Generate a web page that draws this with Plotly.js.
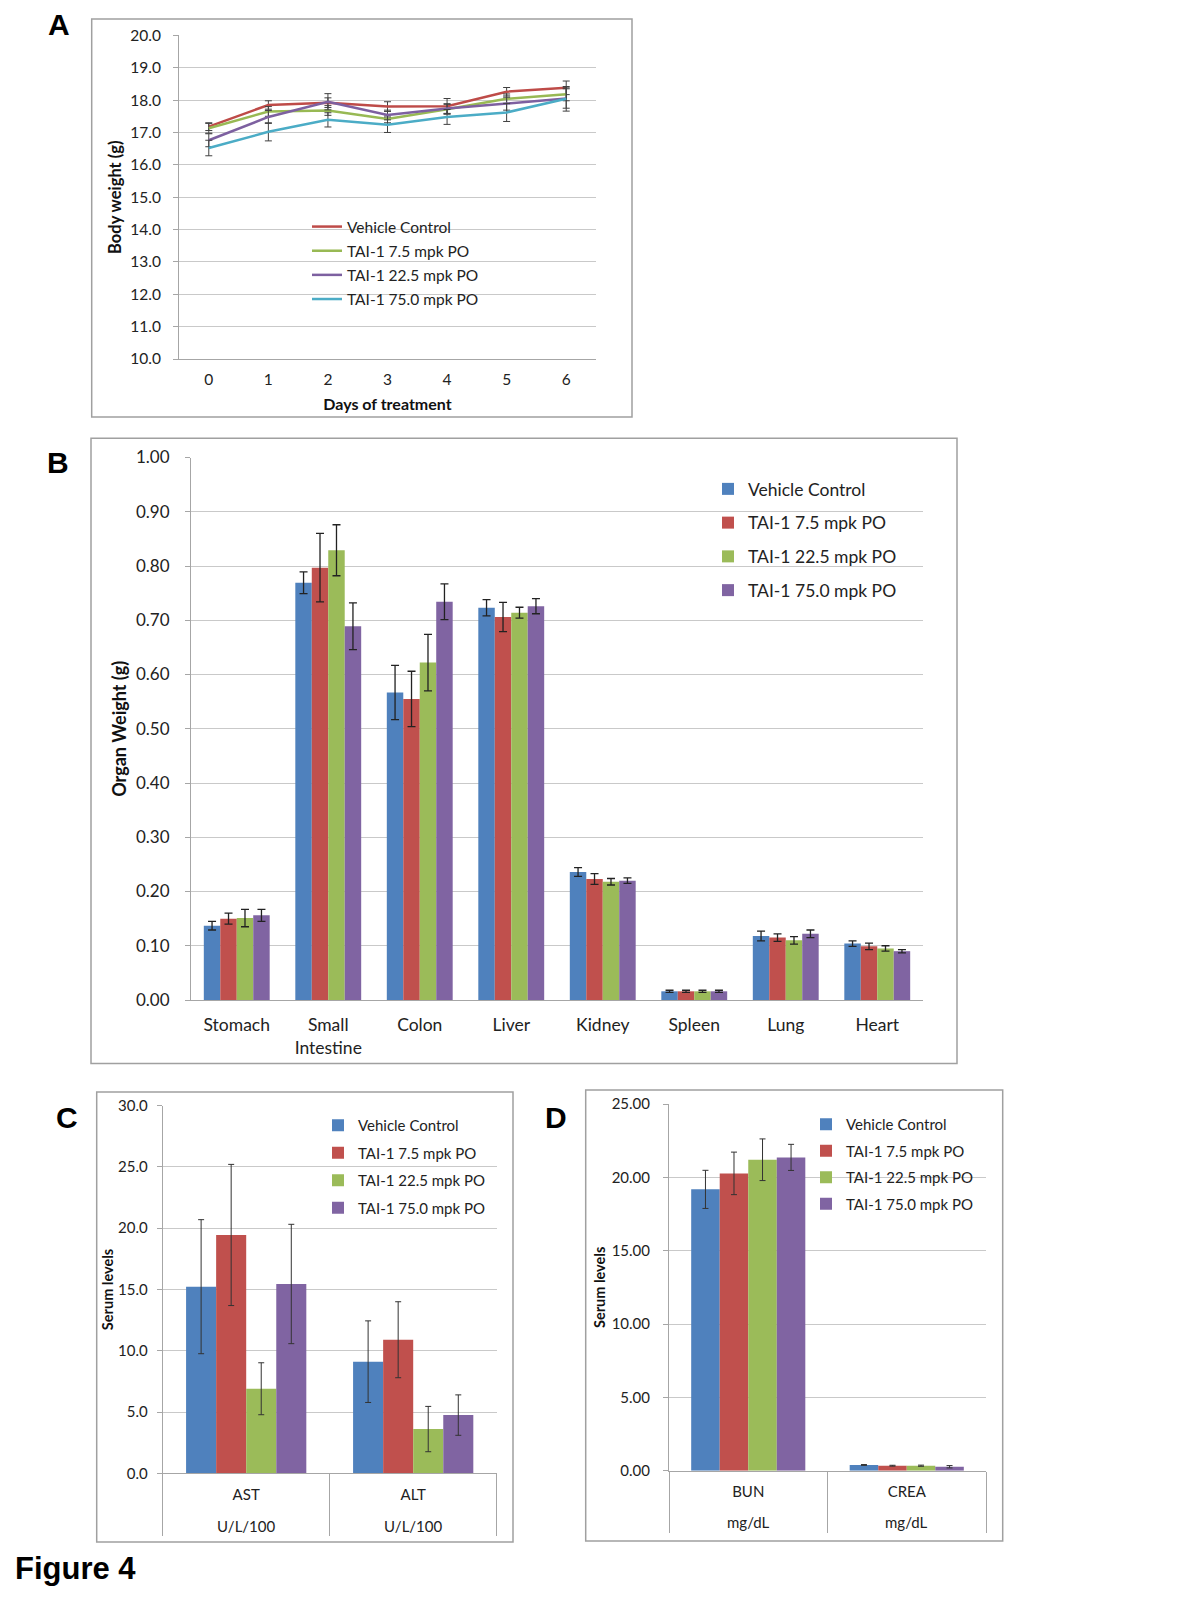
<!DOCTYPE html>
<html><head><meta charset="utf-8">
<script src="https://cdn.plot.ly/plotly-3.0.1.min.js"></script>
<style>html,body{margin:0;padding:0;background:#fff}#chart{width:1200px;height:1600px}</style>
</head><body><div id="chart"></div>
<script>
// ---------- data ----------
const seriesNames = ['Vehicle Control', 'TAI-1 7.5 mpk PO', 'TAI-1 22.5 mpk PO', 'TAI-1 75.0 mpk PO'];

// Panel A: body weight (g) by day
const days = [0, 1, 2, 3, 4, 5, 6];
const bwVehicle = [17.18, 17.85, 17.92, 17.80, 17.81, 18.26, 18.38];
const bwLow     = [17.13, 17.65, 17.68, 17.42, 17.72, 18.04, 18.18];
const bwMid     = [16.76, 17.48, 17.95, 17.54, 17.74, 17.89, 18.05];
const bwHigh    = [16.52, 17.02, 17.39, 17.24, 17.48, 17.62, 18.04];
const bwVehicleErr = [0.12, 0.13, 0.15, 0.15, 0.24, 0.13, 0.21];
const bwLowErr     = [0.15, 0.15, 0.15, 0.12, 0.15, 0.15, 0.20];
const bwMidErr     = [0.20, 0.20, 0.25, 0.15, 0.15, 0.20, 0.30];
const bwHighErr    = [0.24, 0.28, 0.22, 0.24, 0.23, 0.28, 0.38];

// Panel B: organ weight (g)
const organs = ['Stomach', 'Small<br>Intestine', 'Colon', 'Liver', 'Kidney', 'Spleen', 'Lung', 'Heart'];
const owVehicle = [0.137, 0.769, 0.567, 0.723, 0.236, 0.016, 0.118, 0.104];
const owLow     = [0.150, 0.797, 0.555, 0.706, 0.223, 0.016, 0.115, 0.099];
const owMid     = [0.151, 0.829, 0.622, 0.714, 0.218, 0.016, 0.110, 0.095];
const owHigh    = [0.156, 0.689, 0.734, 0.726, 0.220, 0.016, 0.122, 0.090];
const owVehicleErr = [0.008, 0.020, 0.050, 0.015, 0.008, 0.002, 0.009, 0.005];
const owLowErr     = [0.010, 0.063, 0.051, 0.027, 0.010, 0.002, 0.007, 0.006];
const owMidErr     = [0.016, 0.047, 0.052, 0.010, 0.006, 0.002, 0.007, 0.005];
const owHighErr    = [0.011, 0.043, 0.033, 0.014, 0.005, 0.002, 0.007, 0.003];

// Panel C: liver enzymes
const cTests = ['AST', 'ALT'];
const cUnits = ['U/L/100', 'U/L/100'];
const cVehicle = [15.23, 9.11];
const cLow     = [19.45, 10.90];
const cMid     = [6.90, 3.61];
const cHigh    = [15.45, 4.75];
const cVehicleErr = [5.47, 3.33];
const cLowErr     = [5.76, 3.10];
const cMidErr     = [2.12, 1.85];
const cHighErr    = [4.87, 1.65];

// Panel D: kidney markers
const dTests = ['BUN', 'CREA'];
const dUnits = ['mg/dL', 'mg/dL'];
const dVehicle = [19.18, 0.39];
const dLow     = [20.27, 0.34];
const dMid     = [21.20, 0.34];
const dHigh    = [21.36, 0.27];
const dVehicleErr = [1.30, 0.03];
const dLowErr     = [1.45, 0.03];
const dMidErr     = [1.42, 0.04];
const dHighErr    = [0.89, 0.08];

// ---------- styles ----------
const W = 1200, H = 1600;
const px = v => v / W;
const py = v => 1 - v / H;
const FONT = 'Lato, "Open Sans", sans-serif';
const lineColors = ['#BE4B48', '#98B954', '#7D60A0', '#4BACC6'];
const barColors = ['#4F81BD', '#C0504D', '#9BBB59', '#8064A2'];
const grid = '#c9c9c9';
const axisGray = '#a6a6a6';

const traces = [];
const bwSeries = [bwVehicle, bwLow, bwMid, bwHigh];
const bwErrs = [bwVehicleErr, bwLowErr, bwMidErr, bwHighErr];
bwSeries.forEach((s, i) => traces.push({
  type: 'scatter', mode: 'lines', x: days, y: s, name: seriesNames[i],
  xaxis: 'x', yaxis: 'y', legend: 'legend', legendgroup: 'a' + i,
  line: {color: lineColors[i], width: 2.5},
  error_y: {type: 'data', array: bwErrs[i], visible: true, color: '#404040', thickness: 1, width: 3.5}
}));

const owSeries = [owVehicle, owLow, owMid, owHigh];
const owErrs = [owVehicleErr, owLowErr, owMidErr, owHighErr];
owSeries.forEach((s, i) => traces.push({
  type: 'bar', x: organs, y: s, name: seriesNames[i],
  xaxis: 'x2', yaxis: 'y2', legend: 'legend2', legendgroup: 'b' + i,
  marker: {color: barColors[i], line: {width: 0}},
  error_y: {type: 'data', array: owErrs[i], visible: true, color: '#222', thickness: 1.3, width: 4}
}));

const cSeries = [cVehicle, cLow, cMid, cHigh];
const cErrs = [cVehicleErr, cLowErr, cMidErr, cHighErr];
cSeries.forEach((s, i) => traces.push({
  type: 'bar', x: cTests, y: s, name: seriesNames[i],
  xaxis: 'x3', yaxis: 'y3', legend: 'legend3', legendgroup: 'c' + i,
  marker: {color: barColors[i], line: {width: 0}},
  error_y: {type: 'data', array: cErrs[i], visible: true, color: '#333', thickness: 1, width: 3}
}));

const dSeries = [dVehicle, dLow, dMid, dHigh];
const dErrs = [dVehicleErr, dLowErr, dMidErr, dHighErr];
dSeries.forEach((s, i) => traces.push({
  type: 'bar', x: dTests, y: s, name: seriesNames[i],
  xaxis: 'x4', yaxis: 'y4', legend: 'legend4', legendgroup: 'd' + i,
  marker: {color: barColors[i], line: {width: 0}},
  error_y: {type: 'data', array: dErrs[i], visible: true, color: '#333', thickness: 1, width: 3}
}));

function yAxis(domain, range, dtick, fmt, size, title, tsize, standoff, tstand, anchor) {
  return {
    domain: domain, range: range, dtick: dtick, tick0: 0, tickformat: fmt, anchor: anchor,
    showgrid: true, gridcolor: grid, gridwidth: 1, zeroline: false,
    showline: true, linecolor: axisGray, linewidth: 1,
    ticks: 'outside', ticklen: 5, tickcolor: axisGray, ticklabelstandoff: standoff,
    tickfont: {family: FONT, size: size, color: '#222'},
    title: {text: title, standoff: tstand, font: {family: FONT, size: tsize, color: '#111', weight: 'bold'}},
    automargin: false, fixedrange: true
  };
}

// category axis with long boundary ticks acting as the table-style dividers
function catAxis(domain, anchor, divLen, standoff) {
  return {domain: domain, anchor: anchor, showgrid: false, zeroline: false,
    showline: true, linecolor: axisGray, linewidth: 1,
    tickson: 'boundaries', ticks: 'outside', ticklen: divLen, tickcolor: axisGray, tickwidth: 1,
    ticklabelstandoff: standoff,
    tickfont: {family: FONT, size: 15, color: '#222'}, automargin: false, fixedrange: true};
}

function unitLabels(axis, cats, units, yPix) {
  return cats.map((c, i) => ({text: units[i], x: c, xref: axis, y: py(yPix), yref: 'paper',
    showarrow: false, xanchor: 'center', yanchor: 'middle',
    font: {family: FONT, size: 15, color: '#222'}}));
}

function legendCfg(left, top, size, gap) {
  return {x: px(left), y: py(top), xanchor: 'left', yanchor: 'top',
    font: {family: FONT, size: size, color: '#222'}, bgcolor: 'rgba(0,0,0,0)',
    borderwidth: 0, traceorder: 'grouped', tracegroupgap: gap};
}

function box(x0, y0, x1, y1) {
  return {type: 'rect', xref: 'paper', yref: 'paper', x0: px(x0), x1: px(x1), y0: py(y1), y1: py(y0),
    line: {color: '#a0a0a0', width: 1.5}, fillcolor: 'rgba(0,0,0,0)', layer: 'below'};
}

function letter(text, x, y, size) {
  return {text: text, x: px(x), y: py(y), xref: 'paper', yref: 'paper', showarrow: false,
    xanchor: 'center', yanchor: 'middle',
    font: {family: '"Liberation Sans", Arial, sans-serif', size: size, color: '#000', weight: 'bold'}};
}

const layout = {
  width: W, height: H, margin: {l: 0, r: 0, t: 0, b: 0},
  paper_bgcolor: '#fff', plot_bgcolor: 'rgba(0,0,0,0)',
  barmode: 'group', bargap: 0.28, bargroupgap: 0,
  showlegend: true,
  // Panel A
  xaxis: {domain: [px(179), px(596)], range: [-0.5, 6.5], tickvals: days, anchor: 'y',
    showgrid: false, zeroline: false, showline: true, linecolor: axisGray, ticks: '',
    ticklabelstandoff: 6,
    tickfont: {family: FONT, size: 15.5, color: '#222'},
    title: {text: 'Days of treatment', standoff: 12, font: {family: FONT, size: 16, color: '#111', weight: 'bold'}},
    automargin: false, fixedrange: true},
  yaxis: yAxis([py(359), py(35.4)], [10, 20], 1, '.1f', 15.5, 'Body weight (g)', 16.5, 9, 4, 'x'),
  // Panel B
  xaxis2: {domain: [px(191), px(923)], anchor: 'y2', showgrid: false, zeroline: false,
    showline: true, linecolor: axisGray, ticks: '', ticklabelstandoff: 9,
    tickfont: {family: FONT, size: 17.5, color: '#222'}, automargin: false, fixedrange: true},
  yaxis2: yAxis([py(1000), py(457.5)], [0, 1], 0.1, '.2f', 17, 'Organ Weight (g)', 18, 12, 4, 'x2'),
  // Panel C
  xaxis3: catAxis([px(162.7), px(496.7)], 'y3', 62, 8),
  yaxis3: yAxis([py(1473.3), py(1105.7)], [0, 30], 5, '.1f', 15, 'Serum levels', 14.5, 6, 0, 'x3'),
  // Panel D
  xaxis4: catAxis([px(669), px(986)], 'y4', 61, 7),
  yaxis4: yAxis([py(1470.7), py(1104)], [0, 25], 5, '.2f', 15, 'Serum levels', 14.5, 10, 2, 'x4'),
  legend: legendCfg(307, 210, 15.5, 1),
  legend2: legendCfg(708, 471, 17.5, 8),
  legend3: legendCfg(318, 1109, 15, 5),
  legend4: legendCfg(806, 1108, 15, 4),
  shapes: [box(91.7, 19, 632, 417), box(91, 438.3, 957, 1063.5), box(96.7, 1092, 513, 1542), box(585.7, 1090, 1002.7, 1541)],
  annotations: [letter('A', 59, 24.5, 30), letter('B', 57.5, 463, 30), letter('C', 67.3, 1117, 30), letter('D', 556, 1117.5, 30),
    {text: 'Figure 4', x: px(13), y: py(1568), xref: 'paper', yref: 'paper', showarrow: false, xanchor: 'left', yanchor: 'middle',
     font: {family: '"Liberation Sans", Arial, sans-serif', size: 31, color: '#000', weight: 'bold'}}]
    .concat(unitLabels('x3', cTests, cUnits, 1525.7))
    .concat(unitLabels('x4', dTests, dUnits, 1522.3))
};

Plotly.newPlot('chart', traces, layout, {staticPlot: true, displayModeBar: false});
</script>
</body></html>
